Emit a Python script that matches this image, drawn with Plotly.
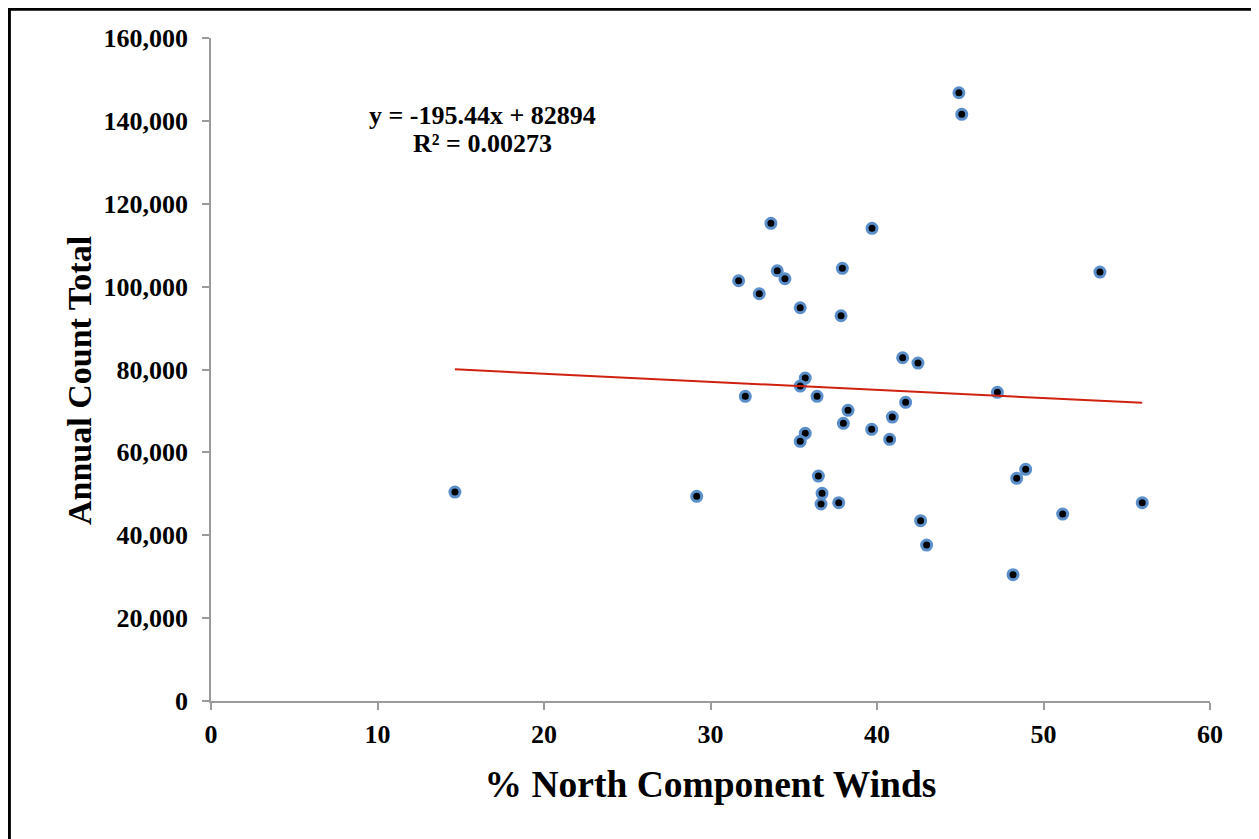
import plotly.graph_objects as go

# % north component winds vs annual count total
north_pct = [
    14.65, 29.17, 31.69, 32.09, 32.93, 33.63, 34.01, 34.47, 35.39, 35.69,
    35.39, 35.69, 35.39, 36.40, 36.48, 36.70, 36.64, 37.70, 37.84, 37.92,
    37.98, 38.26, 39.68, 39.70, 40.76, 40.92, 41.54, 41.72, 42.46, 42.62,
    42.98, 44.92, 45.09, 47.23, 48.17, 48.39, 48.93, 51.15, 53.39, 55.93,
]
annual_count = [
    50430, 49400, 101420, 73520, 98280, 115270, 103830, 101900, 94900, 77940,
    76010, 64600, 62670, 73520, 54290, 50110, 47540, 47860, 92970, 104410,
    67010, 70150, 65560, 114060, 63150, 68530, 82840, 72080, 81560, 43510,
    37640, 146790, 141570, 74490, 30480, 53730, 55910, 45120, 103520, 47850,
]

# linear trendline as printed on the chart
slope = -195.44
intercept = 82894
r_squared = 0.00273

x_ticks = [0, 10, 20, 30, 40, 50, 60]
y_ticks = [0, 20000, 40000, 60000, 80000, 100000, 120000, 140000, 160000]

FONT = "Times New Roman, Liberation Serif, serif"
AXIS_GREY = "#9B9B9B"

trend_x = [min(north_pct), max(north_pct)]
trend_y = [slope * v + intercept for v in trend_x]

fig = go.Figure()

fig.add_trace(
    go.Scatter(
        x=north_pct,
        y=annual_count,
        mode="markers",
        marker=dict(color="#000000", size=10, line=dict(color="#5A8FCB", width=3)),
        showlegend=False,
    )
)

fig.add_trace(
    go.Scatter(
        x=trend_x,
        y=trend_y,
        mode="lines",
        line=dict(color="#D0200F", width=2),
        showlegend=False,
    )
)

# trendline equation, two lines
fig.add_annotation(
    x=16.28, y=141300, xref="x", yref="y",
    text=f"y = {slope}x + {intercept}",
    showarrow=False,
    font=dict(family=FONT, size=26, color="#000000", weight="bold"),
)
fig.add_annotation(
    x=16.28, y=134600, xref="x", yref="y",
    text=f"R² = {r_squared}",
    showarrow=False,
    font=dict(family=FONT, size=26, color="#000000", weight="bold"),
)

# y axis title placed by hand (sits a little below the plot's middle)
fig.add_annotation(
    x=-0.1311, y=0.4827, xref="paper", yref="paper",
    text="Annual Count Total",
    textangle=-90,
    showarrow=False,
    xanchor="center", yanchor="middle",
    font=dict(family=FONT, size=34, color="#000000", weight="bold"),
)

# black frame round the whole chart
fig.add_shape(
    type="rect", xref="paper", yref="paper",
    x0=-0.2018, x1=1.046, y0=-0.25, y1=1.0433,
    line=dict(color="#000000", width=3),
)

axis_common = dict(
    showgrid=False,
    zeroline=False,
    showline=True,
    linecolor=AXIS_GREY,
    linewidth=1.5,
    ticks="outside",
    ticklen=7,
    tickwidth=1.5,
    tickcolor=AXIS_GREY,
    tickfont=dict(family=FONT, size=26, color="#000000", weight="bold"),
)

fig.update_layout(
    width=1251,
    height=831,
    margin=dict(l=203, r=49, t=30, b=138),
    plot_bgcolor="#FFFFFF",
    paper_bgcolor="#FFFFFF",
    xaxis=dict(
        **axis_common,
        range=[0, 60],
        tickvals=x_ticks,
        ticklabelstandoff=2,
        automargin=False,
        title=dict(
            text="% North Component Winds",
            font=dict(family=FONT, size=37.5, color="#000000", weight="bold"),
            standoff=23,
        ),
    ),
    yaxis=dict(
        **axis_common,
        range=[0, 160000],
        tickvals=y_ticks,
        tickformat=",",
        ticklabelstandoff=9,
        automargin=False,
    ),
)

fig.write_html("out.html")
